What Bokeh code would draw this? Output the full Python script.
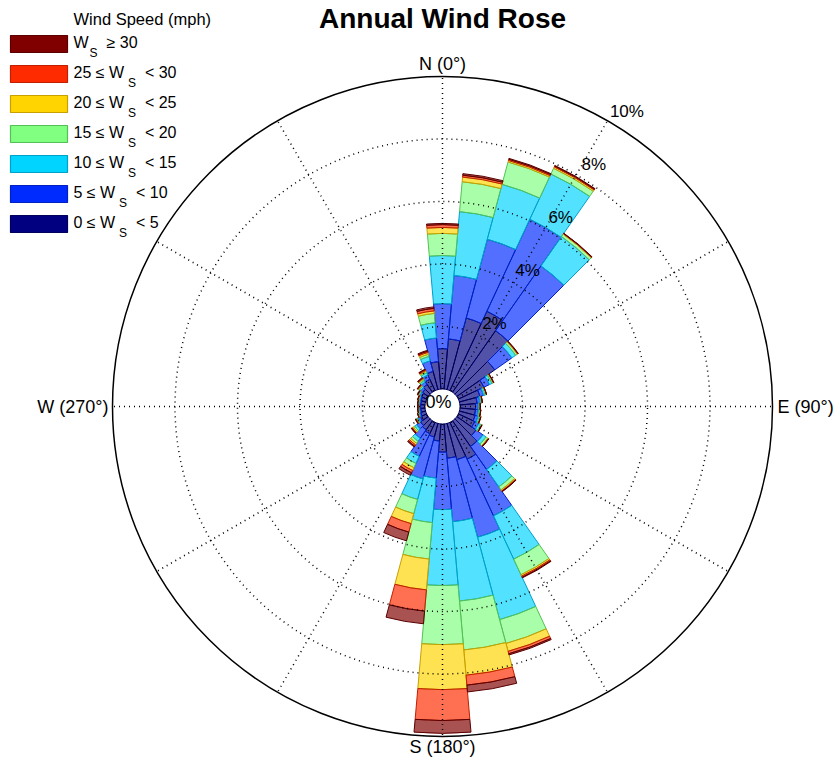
import math
from bokeh.plotting import figure
from bokeh.models import Range1d
from bokeh.embed import file_html
from bokeh.resources import INLINE
from bokeh.core.properties import value

# ---------------- data ----------------
directions = list(range(0, 360, 10))  # compass degrees, bar centres
bin_labels = ["0-5", "5-10", "10-15", "15-20", "20-25", "25-30", ">=30"]
grid_pcts = [2, 4, 6, 8]
outer_pct = 10
pct_labels = ["2%", "4%", "6%", "8%", "10%"]
dir_labels = ["N (0\u00b0)", "E (90\u00b0)", "S (180\u00b0)", "W (270\u00b0)"]

freq_0_5 = [1.29, 1.61, 2.37, 2.80, 2.40, 1.48, 0.90, 0.68, 0.55, 0.50, 0.50, 0.52,
            0.58, 0.75, 1.00, 1.30, 1.20, 1.10, 0.90, 0.55, 0.45, 0.40, 0.35, 0.30,
            0.22, 0.16, 0.14, 0.14, 0.14, 0.15, 0.18, 0.22, 0.30, 0.40, 0.60, 0.88]
freq_5_10 = [1.44, 2.04, 2.61, 3.25, 2.53, 0.67, 0.20, 0.12, 0.09, 0.08, 0.09, 0.10,
             0.14, 0.27, 0.90, 2.00, 2.57, 2.04, 1.84, 1.19, 1.39, 0.80, 0.33, 0.15,
             0.08, 0.05, 0.04, 0.04, 0.04, 0.05, 0.06, 0.08, 0.10, 0.15, 0.35, 0.76]
freq_10_15 = [1.54, 2.05, 1.82, 1.60, 1.15, 0.15, 0.09, 0.06, 0.05, 0.04, 0.04, 0.05,
              0.07, 0.12, 0.68, 1.53, 2.73, 2.55, 2.43, 1.43, 0.68, 0.25, 0.12, 0.08,
              0.04, 0.03, 0.03, 0.02, 0.03, 0.03, 0.04, 0.05, 0.06, 0.08, 0.15, 0.49]
freq_15_20 = [0.71, 0.96, 0.74, 0.20, 0.09, 0.06, 0.04, 0.03, 0.02, 0.02, 0.03, 0.03,
              0.03, 0.07, 0.12, 0.55, 0.79, 1.57, 1.89, 1.17, 0.47, 0.15, 0.08, 0.05,
              0.02, 0.01, 0.01, 0.01, 0.01, 0.01, 0.02, 0.03, 0.04, 0.05, 0.07, 0.30]
freq_20_25 = [0.19, 0.15, 0.05, 0.05, 0.02, 0.02, 0.01, 0.01, 0.01, 0.01, 0.01, 0.01,
              0.01, 0.02, 0.04, 0.05, 0.26, 0.81, 1.44, 0.99, 0.33, 0.10, 0.06, 0.04,
              0.02, 0.01, 0.01, 0.01, 0.01, 0.01, 0.01, 0.02, 0.03, 0.03, 0.06, 0.08]
freq_25_30 = [0.09, 0.06, 0.04, 0.03, 0.01, 0.01, 0.01, 0.00, 0.00, 0.00, 0.00, 0.00,
              0.00, 0.01, 0.02, 0.04, 0.08, 0.32, 0.99, 0.68, 0.28, 0.08, 0.05, 0.02,
              0.01, 0.01, 0.01, 0.01, 0.01, 0.01, 0.01, 0.02, 0.02, 0.03, 0.04, 0.08]
freq_30_up = [0.04, 0.05, 0.03, 0.02, 0.01, 0.01, 0.00, 0.00, 0.00, 0.00, 0.00, 0.00,
              0.01, 0.01, 0.01, 0.02, 0.04, 0.22, 0.41, 0.41, 0.29, 0.09, 0.03, 0.02,
              0.01, 0.00, 0.00, 0.00, 0.00, 0.01, 0.01, 0.01, 0.02, 0.02, 0.03, 0.05]

bins = [freq_0_5, freq_5_10, freq_10_15, freq_15_20, freq_20_25, freq_25_30, freq_30_up]

fill_colors = ["#000080", "#002bff", "#00d4ff", "#80ff80", "#ffd400", "#ff2b00", "#800000"]
edge_colors = ["#00005a", "#0020c0", "#00a0c8", "#55c055", "#c8a000", "#c02000", "#5a0000"]

# ---------------- geometry ----------------
S = 31.25          # px per percent
OFF = 0.56         # hole radius (percent units)
CX, CY = 442.0, 406.0   # centre in page px
W, H = 836, 757

def X(px):
    return (px - CX) / S

def Y(py):
    return (CY - py) / S

p = figure(width=W, height=H, output_backend="svg", toolbar_location=None,
           x_range=Range1d(X(0), X(W)), y_range=Range1d(Y(H), Y(0)),
           x_axis_location=None, y_axis_location=None, min_border=0,
           outline_line_color=None, background_fill_color="white")
p.xgrid.visible = False
p.ygrid.visible = False

half = 5.0
starts = [math.radians(90 - d - half) for d in directions]
ends = [math.radians(90 - d + half) for d in directions]

cum = [0.0] * len(directions)
for k, vals in enumerate(bins):
    inner = [OFF + c for c in cum]
    cum = [c + v for c, v in zip(cum, vals)]
    outer = [OFF + c for c in cum]
    p.annular_wedge(x=0, y=0, inner_radius=inner, outer_radius=outer,
                    start_angle=starts, end_angle=ends,
                    fill_color=fill_colors[k], fill_alpha=0.68,
                    line_color=edge_colors[k], line_width=1.0)

# grid circles (dotted) and outer ring
for g in grid_pcts:
    p.arc(x=0, y=0, radius=OFF + g, start_angle=0, end_angle=2 * math.pi,
          line_color="black", line_dash="1 4", line_width=1.5)
p.arc(x=0, y=0, radius=OFF + outer_pct, start_angle=0, end_angle=2 * math.pi,
      line_color="black", line_width=1.5)

# spokes every 30 degrees
sp = list(range(0, 360, 30))
p.segment(x0=[OFF * math.sin(math.radians(a)) for a in sp],
          y0=[OFF * math.cos(math.radians(a)) for a in sp],
          x1=[(OFF + outer_pct) * math.sin(math.radians(a)) for a in sp],
          y1=[(OFF + outer_pct) * math.cos(math.radians(a)) for a in sp],
          line_color="black", line_dash="1 4", line_width=1.5)

FONT = value("Liberation Sans")

# percentage labels along ~32 deg
lab_ang = math.radians(32)
lab_r = [OFF + v + 18 / S for v in grid_pcts + [outer_pct]]
p.text(x=[r * math.sin(lab_ang) for r in lab_r], y=[r * math.cos(lab_ang) for r in lab_r],
       text=pct_labels, text_font=FONT, text_font_size=value("17px"),
       text_align="center", text_baseline="middle", text_color="black")
p.text(x=[X(438)], y=[Y(401)], text=["0%"], text_font=FONT, text_font_size=value("18px"),
       text_align="center", text_baseline="middle", text_color="black")

# compass labels
R_out = OFF + outer_pct
gap = 9 / S
p.text(x=[0], y=[R_out + gap + 0.1], text=[dir_labels[0]], text_font=FONT,
       text_font_size=value("18px"), text_align="center", text_baseline="middle")
p.text(x=[0], y=[-(R_out + gap + 0.05)], text=[dir_labels[2]], text_font=FONT,
       text_font_size=value("18px"), text_align="center", text_baseline="middle")
p.text(x=[R_out + 5 / S], y=[0], text=[dir_labels[1]], text_font=FONT,
       text_font_size=value("18px"), text_align="left", text_baseline="middle")
p.text(x=[-(R_out + 4 / S)], y=[0], text=[dir_labels[3]], text_font=FONT,
       text_font_size=value("18px"), text_align="right", text_baseline="middle")

# title
p.text(x=[X(442)], y=[Y(18)], text=["Annual Wind Rose"], text_font=FONT,
       text_font_size=value("28px"), text_font_style="bold",
       text_align="center", text_baseline="middle")

# ---------------- legend ----------------
p.text(x=[X(73)], y=[Y(18)], text=["Wind Speed (mph)"], text_font=FONT,
       text_font_size=value("16.5px"), text_align="left", text_baseline="middle")

leg_order = [6, 5, 4, 3, 2, 1, 0]
leg_segments = [
    [("W", 0), ("S", 1), ("\u2265 30", 0)],
    [("25 \u2264 W", 0), ("S", 1), ("< 30", 0)],
    [("20 \u2264 W", 0), ("S", 1), ("< 25", 0)],
    [("15 \u2264 W", 0), ("S", 1), ("< 20", 0)],
    [("10 \u2264 W", 0), ("S", 1), ("< 15", 0)],
    [("5 \u2264 W", 0), ("S", 1), ("< 10", 0)],
    [("0 \u2264 W", 0), ("S", 1), ("< 5", 0)],
]
cw = {"W": 0.944, "S": 0.667, " ": 0.34, "<": 0.584, "\u2264": 0.6, "\u2265": 0.6}
def width(s, fs):
    return sum(cw.get(ch, 0.556) for ch in s) * fs

MAIN_FS, SUB_FS = 16, 12
row_y0, row_dy = 43.5, 30
p.rect(x=[X(38.5)] * 7, y=[Y(row_y0 + i * row_dy) for i in range(7)],
       width=57 / S, height=17 / S,
       fill_color=[fill_colors[k] for k in leg_order],
       line_color=[edge_colors[k] for k in leg_order], line_width=1.2)

for i, segs in enumerate(leg_segments):
    xpx = 73.0
    ymid = row_y0 + i * row_dy - 2
    for txt, sub in segs:
        fs = SUB_FS if sub else MAIN_FS
        yy = ymid + (11 if sub else 0)
        p.text(x=[X(xpx)], y=[Y(yy)], text=[txt], text_font=FONT,
               text_font_size=value(f"{fs}px"), text_align="left",
               text_baseline="middle", text_color="black")
        xpx += width(txt, fs) + (9 if sub else 1)

open("out.html", "w").write(file_html(p, INLINE))
